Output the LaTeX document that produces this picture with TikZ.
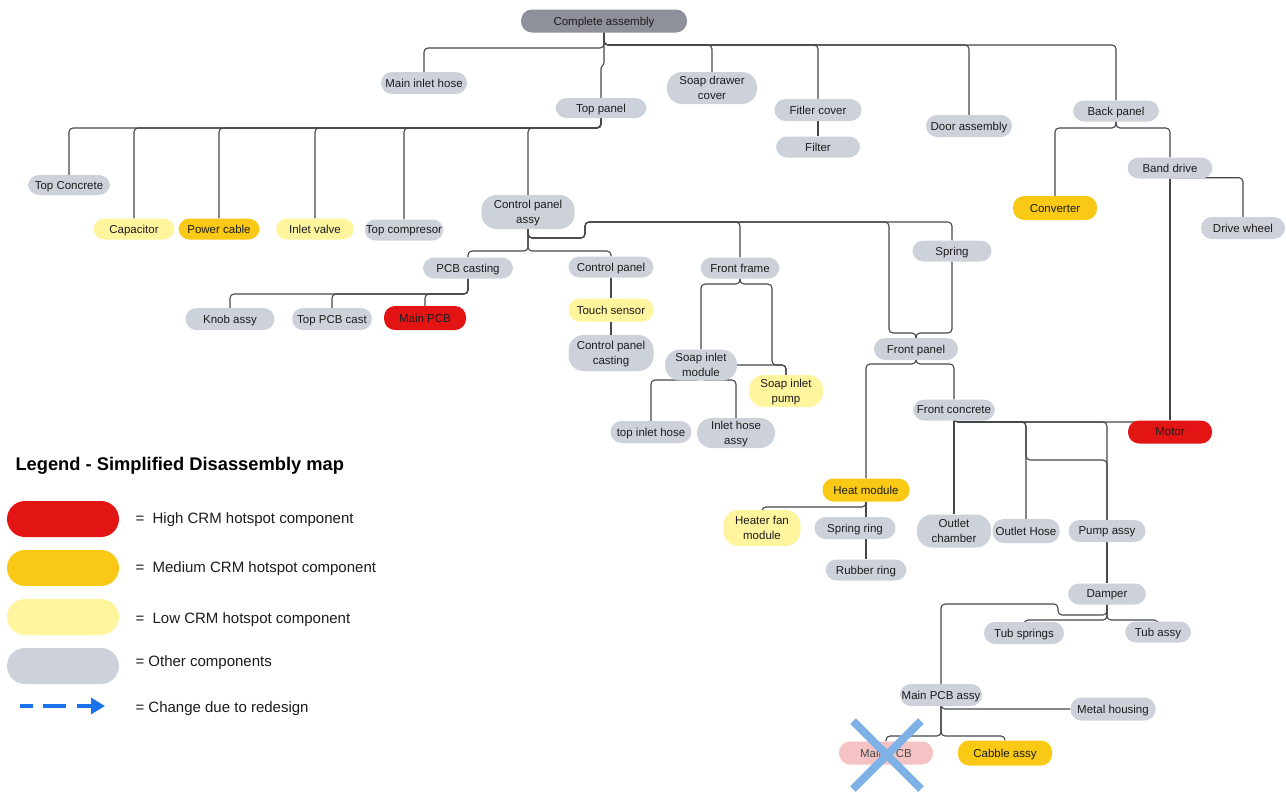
\documentclass[tikz,border=0pt]{standalone}
\usepackage{fontspec}
\setmainfont{Liberation Sans}
\usetikzlibrary{arrows.meta}
\definecolor{other}{HTML}{CDD2DA}
\definecolor{rootc}{HTML}{8E919A}
\definecolor{high}{HTML}{E31414}
\definecolor{med}{HTML}{F9C916}
\definecolor{low}{HTML}{FFF59E}
\definecolor{removed}{HTML}{F5C3C3}
\definecolor{wire}{HTML}{45474D}
\definecolor{cross}{HTML}{7EB1E6}
\definecolor{redesign}{HTML}{1A73E8}
\definecolor{ink}{HTML}{1C1C1C}
\pgfdeclarelayer{paper}
\pgfdeclarelayer{wires}
\pgfsetlayers{paper,wires,main}
\tikzset{
  part/.style={rectangle, rounded corners=11pt, inner sep=0pt, text=ink,
    font=\fontsize{11.5}{15}\selectfont, align=center, text depth=0pt},
  tall/.style={rounded corners=15pt},
  sz/.style 2 args={minimum width=#1pt, minimum height=#2pt},
  oth/.style={part, fill=other},
  hi/.style={part, fill=high},
  md/.style={part, fill=med},
  lo/.style={part, fill=low},
  wire/.style={draw=wire, line width=1.1pt, rounded corners=4pt},
  legtext/.style={anchor=west, text=ink, font=\fontsize{15}{18}\selectfont},
  legpill/.style={part, sz={112}{36}, rounded corners=18pt},
  crossline/.style={draw=cross, line width=8pt},
}
\begin{document}
\begin{tikzpicture}[x=1pt,y=-1pt]
\begin{pgfonlayer}{paper}
  \fill[white] (0,0) rectangle (1286,801);
\end{pgfonlayer}
\useasboundingbox (0,0) rectangle (1286,801);

% ---------- parts ----------
\node[part, fill=rootc, sz={166}{23}] (ca) at (604,21) {Complete assembly};
\node[oth, sz={86}{22}] (mih) at (424,83) {Main inlet hose};
\node[oth, sz={91}{20}] (tp) at (601,108) {Top panel};
\node[oth, tall, sz={90}{32}] (sdc) at (712,88) {Soap drawer\\cover};
\node[oth, sz={87}{22}] (fc) at (818,110) {Fitler cover};
\node[oth, sz={84}{21}] (fil) at (818,147) {Filter};
\node[oth, sz={86}{22}] (da) at (969,126) {Door assembly};
\node[oth, sz={86}{21}] (bp) at (1116,111) {Back panel};
\node[oth, sz={85}{21}] (bd) at (1170,168) {Band drive};
\node[md, sz={84}{24}] (conv) at (1055,208) {Converter};
\node[oth, sz={84}{22}] (dw) at (1243,228) {Drive wheel};

\node[oth, sz={82}{20}] (tc) at (69,185) {Top Concrete};
\node[lo, sz={81}{21}] (cap) at (134,229) {Capacitor};
\node[md, sz={81}{21}] (pc) at (219,229) {Power cable};
\node[lo, sz={78}{21}] (iv) at (315,229) {Inlet valve};
\node[oth, sz={79}{21}] (tcomp) at (404,230) {Top compresor};
\node[oth, tall, sz={93}{34}] (cpa) at (528,212) {Control panel\\assy};

\node[oth, sz={90}{21}] (pcbc) at (468,268) {PCB casting};
\node[oth, sz={85}{21}] (cp) at (611,267) {Control panel};
\node[oth, sz={79}{21}] (ff) at (740,268) {Front frame};
\node[oth, sz={79}{21}] (spr) at (952,251) {Spring};
\node[oth, sz={89}{22}] (ka) at (230,319) {Knob assy};
\node[oth, sz={80}{22}] (tpc) at (332,319) {Top PCB cast};
\node[hi, sz={82}{24}] (mpcb) at (425,318) {Main PCB};
\node[lo, sz={85}{23}] (ts) at (611,310) {Touch sensor};
\node[oth, tall, sz={85}{36}] (cpc) at (611,353) {Control panel\\casting};
\node[oth, tall, sz={72}{31}] (sim) at (701,365) {Soap inlet\\module};
\node[lo, tall, sz={74}{32}] (sip) at (786,391) {Soap inlet\\pump};
\node[oth, sz={81}{22}] (tih) at (651,432) {top inlet hose};
\node[oth, tall, sz={78}{30}] (iha) at (736,433) {Inlet hose\\assy};

\node[oth, sz={84}{22}] (fp) at (916,349) {Front panel};
\node[oth, sz={82}{21}] (fcon) at (954,410) {Front concrete};
\node[hi, sz={84}{23}] (mot) at (1170,432) {Motor};
\node[md, sz={87}{23}] (hm) at (866,490) {Heat module};
\node[lo, tall, sz={77}{36}] (hfm) at (762,528) {Heater fan\\module};
\node[oth, sz={81}{22}] (sr) at (855,528) {Spring ring};
\node[oth, sz={81}{21}] (rr) at (866,570) {Rubber ring};
\node[oth, tall, sz={74}{33}] (oc) at (954,531) {Outlet\\chamber};
\node[oth, sz={67}{24}] (oh) at (1026,531) {Outlet Hose};
\node[oth, sz={77}{22}] (pa) at (1107,531) {Pump assy};
\node[oth, sz={78}{21}] (dam) at (1107,594) {Damper};
\node[oth, sz={80}{22}] (tsp) at (1024,633) {Tub springs};
\node[oth, sz={66}{21}] (tub) at (1158,632) {Tub assy};
\node[oth, sz={82}{22}] (mpa) at (941,695) {Main PCB assy};
\node[oth, sz={85}{23}] (mh) at (1113,709) {Metal housing};
\node[part, fill=removed, text=ink!80, sz={94}{23}] (mpcbx) at (886,753) {Main PCB};
\node[md, sz={94}{25}] (cab) at (1005,753) {Cabble assy};

% ---------- bus levels and bends ----------
\coordinate (caL) at (0,48);
\coordinate (caR) at (0,45);
\coordinate (tpbus) at (0,128);
\coordinate (bpbus) at (0,128);
\coordinate (cpbus) at (0,251);
\coordinate (cpaJ) at (585,238);
\coordinate (cpatop) at (0,222);
\coordinate (fpL) at (889,0);
\coordinate (fpJ) at (0,333);
\coordinate (ffbus) at (0,284);
\coordinate (ffR) at (772,0);
\coordinate (simbus) at (0,380);
\coordinate (pcbbus) at (0,294);
\coordinate (fpbus) at (0,364);
\coordinate (fconbus) at (0,422);
\coordinate (ohpa) at (0,460);
\coordinate (hmbus) at (0,507);
\coordinate (dambus) at (0,620);
\coordinate (damJ) at (1058,615);
\coordinate (damtop) at (0,604);
\coordinate (mpabus) at (0,736);

% ---------- connectors ----------
\begin{pgfonlayer}{wires}
  % complete assembly
  \draw[wire] (ca.south) |- (mih.north |- caL) -- (mih.north);
  \foreach \c in {sdc,fc,da,bp}
    \draw[wire] (ca.south) |- (\c.north |- caR) -- (\c.north);
  \draw[wire, rounded corners=1pt] (ca.south) -- ++(0,31) -- ++(-3,4) -- (tp.north);
  \draw[wire] (fc.south) -- (fil.north);
  % top panel
  \foreach \c in {tc,cap,pc,iv,tcomp,cpa}
    \draw[wire] (tp.south) |- (\c.north |- tpbus) -- (\c.north);
  % back panel
  \foreach \c in {conv,bd}
    \draw[wire] (bp.south) |- (\c.north |- bpbus) -- (\c.north);
  \draw[wire] (bd.south) -- (mot.north);
  \draw[wire] ([yshift=1pt]bd.south) -| (dw.north);
  % control panel assy
  \foreach \c in {pcbc,cp}
    \draw[wire] (cpa.south) |- (\c.north |- cpbus) -- (\c.north);
  \draw[wire] (cpa.south) |- (cpaJ) |- (ff.north |- cpatop) -- (ff.north);
  \draw[wire] (cpa.south) |- (cpaJ) |- (spr.north |- cpatop) -- (spr.north);
  \draw[wire] (cpa.south) |- (cpaJ) |- (fpL |- cpatop) |- (fp.north |- fpJ) -- (fp.north);
  \draw[wire] (spr.south) |- (fp.north |- fpJ) -- (fp.north);
  % pcb casting
  \foreach \c in {ka,tpc,mpcb}
    \draw[wire] (pcbc.south) |- (\c.north |- pcbbus) -- (\c.north);
  % control panel
  \draw[wire] (cp.south) -- (ts.north);
  \draw[wire] (ts.south) -- (cpc.north);
  % front frame
  \draw[wire] (ff.south) |- (sim.north |- ffbus) -- (sim.north);
  \draw[wire] (ff.south) |- (ffR |- ffbus) |- (sip.north |- sim.east) -- (sip.north);
  \draw[wire] (sim.east) -| (sip.north);
  \foreach \c in {tih,iha}
    \draw[wire] (sim.center) |- (\c.north |- simbus) -- (\c.north);
  % front panel
  \foreach \c in {hm,fcon}
    \draw[wire] (fp.south) |- (\c.north |- fpbus) -- (\c.north);
  % front concrete
  \draw[wire] (fcon.south) -- (oc.north);
  \draw[wire] (fcon.south) |- (oh.north |- fconbus) -- (oh.north);
  \draw[wire] (fcon.south) |- (oh.north |- fconbus) |- (pa.north |- ohpa) -- (pa.north);
  \draw[wire] (fcon.south) |- (pa.north |- fconbus) -- (pa.north);
  \draw[wire] (fcon.south) |- (mot.center |- fconbus);
  % heat module
  \draw[wire] (hm.south) |- (hfm.north |- hmbus) -- (hfm.north);
  \draw[wire] (hm.south) -- (rr.north);
  % pump assy and damper
  \draw[wire] (pa.south) -- (dam.north);
  \foreach \c in {tsp,tub}
    \draw[wire] (dam.south) |- (\c.north |- dambus) -- (\c.north);
  \draw[wire] (dam.south) |- (damJ) |- (mpa.north |- damtop) -- (mpa.north);
  % main pcb assy
  \draw[wire] (mpa.south) |- (mh.west);
  \foreach \c in {mpcbx,cab}
    \draw[wire] (mpa.south) |- (\c.north |- mpabus) -- (\c.north);
\end{pgfonlayer}

% removed board
\coordinate (xa) at (853,721);
\coordinate (xb) at (921,789);
\coordinate (xc) at (921,721);
\coordinate (xd) at (853,789);
\draw[crossline] (xa) -- (xb);
\draw[crossline] (xc) -- (xd);

% ---------- legend ----------
\node[anchor=west, text=black, font=\bfseries\fontsize{18.3}{22}\selectfont] (ltitle) at (12,466) {Legend - Simplified Disassembly map};
\node[legpill, fill=high] (lhigh) at (63,519) {};
\node[legpill, fill=med] (lmed) at (63,568) {};
\node[legpill, fill=low] (llow) at (63,617) {};
\node[legpill, fill=other] (loth) at (63,666) {};
\node[legtext] (thigh) at (132,520) {=\ \ High CRM hotspot component};
\node[legtext] (tmed) at (132,569) {=\ \ Medium CRM hotspot component};
\node[legtext] (tlow) at (132,620) {=\ \ Low CRM hotspot component};
\node[legtext] (toth) at (132,663) {= Other components};
\node[legtext] (tchg) at (132,709) {= Change due to redesign};
\coordinate (la) at (20,706);
\coordinate (lb) at (105,706);
\draw[redesign, line width=3.2pt, dash pattern=on 13pt off 10pt on 23pt off 11pt on 40pt off 0pt,
  -{Triangle[length=14pt,width=16pt]}] (la) -- (lb);
\end{tikzpicture}
\end{document}
